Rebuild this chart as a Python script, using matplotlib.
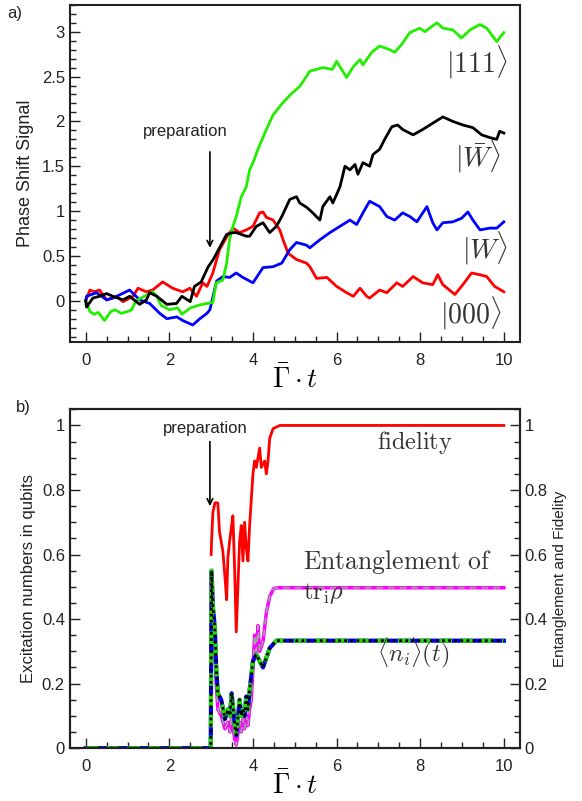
import numpy as np
import matplotlib
matplotlib.use("Agg")
import matplotlib.pyplot as plt
from matplotlib.ticker import MultipleLocator, FuncFormatter

plt.rcParams['font.family'] = ['Liberation Sans', 'DejaVu Sans']
plt.rcParams['mathtext.fontset'] = 'cm'

# ---- panel a) phase shift signal, (t, signal)
sig_111 = np.array([
    (0, 0), (0.1, -0.12), (0.2, -0.15), (0.3, -0.13), (0.45, -0.22), (0.6, -0.12), (0.7, -0.1),
    (0.85, -0.14), (1.0, -0.12), (1.1, -0.1), (1.2, 0.0), (1.4, 0.05), (1.6, 0.1), (1.7, 0.05),
    (1.8, -0.05), (2.0, -0.1), (2.2, -0.08), (2.3, -0.15), (2.5, -0.08), (2.7, -0.05), (2.9, -0.03),
    (3.04, -0.02), (3.12, 0.2), (3.28, 0.23), (3.37, 0.42), (3.44, 0.68), (3.52, 0.83), (3.6, 0.94),
    (3.72, 1.16), (3.84, 1.27), (3.92, 1.46), (4.0, 1.54), (4.12, 1.69), (4.32, 1.91), (4.48, 2.07),
    (4.7, 2.2), (4.9, 2.3), (5.12, 2.39), (5.36, 2.56), (5.67, 2.6), (5.9, 2.58), (6.0, 2.67),
    (6.24, 2.49), (6.4, 2.61), (6.56, 2.69), (6.63, 2.63), (6.84, 2.77), (7.03, 2.84), (7.27, 2.8),
    (7.39, 2.77), (7.56, 2.86), (7.75, 2.99), (7.99, 3.04), (8.11, 3.0), (8.4, 3.1), (8.54, 3.04),
    (8.78, 3.02), (8.99, 2.93), (9.19, 3.02), (9.43, 3.08), (9.59, 3.04), (9.83, 2.89), (10.0, 2.99)])

sig_wbar = np.array([
    (0, 0), (0.02, -0.07), (0.17, 0.03), (0.33, 0.05), (0.5, 0.08), (0.65, 0.05), (0.89, 0.01),
    (1.05, 0.05), (1.29, -0.04), (1.45, 0.01), (1.53, 0.09), (1.7, 0.05), (1.94, -0.04), (2.17, -0.03),
    (2.3, 0.05), (2.5, -0.01), (2.6, 0.16), (2.76, 0.21), (2.93, 0.38), (3.05, 0.46), (3.21, 0.6),
    (3.37, 0.74), (3.52, 0.76), (3.6, 0.76), (3.84, 0.72), (3.92, 0.72), (4.08, 0.83), (4.24, 0.87),
    (4.4, 0.76), (4.56, 0.83), (4.69, 0.94), (4.88, 1.13), (5.04, 1.16), (5.12, 1.09), (5.29, 1.04),
    (5.43, 0.98), (5.6, 0.9), (5.67, 1.05), (5.84, 1.16), (5.91, 1.09), (6.08, 1.27), (6.2, 1.5),
    (6.32, 1.46), (6.44, 1.52), (6.51, 1.41), (6.63, 1.54), (6.79, 1.5), (6.87, 1.63), (7.03, 1.69),
    (7.15, 1.8), (7.32, 1.94), (7.46, 1.96), (7.58, 1.91), (7.83, 1.85), (8.06, 1.91), (8.3, 1.98),
    (8.54, 2.05), (8.78, 2.0), (9.02, 1.96), (9.26, 1.93), (9.47, 1.85), (9.66, 1.82), (9.83, 1.8),
    (9.9, 1.89), (10.0, 1.87)])

sig_w = np.array([
    (0, 0), (0.02, 0.05), (0.26, 0.09), (0.5, 0.01), (0.65, 0.03), (1.05, 0.12), (1.29, 0.01),
    (1.53, -0.03), (1.77, -0.14), (1.94, -0.2), (2.18, -0.18), (2.32, -0.22), (2.56, -0.27),
    (2.73, -0.2), (2.9, -0.14), (2.97, -0.1), (3.13, 0.22), (3.28, 0.27), (3.44, 0.26), (3.6, 0.31),
    (3.76, 0.26), (4.0, 0.2), (4.24, 0.37), (4.48, 0.38), (4.69, 0.42), (4.88, 0.57), (5.04, 0.65),
    (5.28, 0.62), (5.36, 0.59), (5.6, 0.68), (5.84, 0.76), (6.08, 0.83), (6.32, 0.9), (6.48, 0.85),
    (6.63, 0.98), (6.79, 1.11), (7.03, 1.05), (7.2, 0.94), (7.39, 0.9), (7.58, 0.98), (7.75, 0.94),
    (7.92, 0.88), (8.16, 1.05), (8.3, 0.87), (8.4, 0.79), (8.54, 0.87), (8.78, 0.88), (8.99, 0.92),
    (9.14, 0.99), (9.26, 0.9), (9.43, 0.79), (9.66, 0.81), (9.83, 0.81), (10.0, 0.88)])

sig_000 = np.array([
    (0, 0), (0.1, 0.12), (0.2, 0.1), (0.33, 0.12), (0.5, 0.01), (0.74, 0.05), (0.89, -0.01),
    (1.13, 0.05), (1.25, 0.14), (1.45, 0.1), (1.6, 0.12), (1.84, 0.21), (2.08, 0.14), (2.32, 0.1),
    (2.49, 0.14), (2.65, 0.05), (2.8, 0.2), (2.9, 0.16), (3.04, 0.31), (3.2, 0.57), (3.37, 0.71),
    (3.52, 0.81), (3.68, 0.76), (3.84, 0.79), (4.0, 0.83), (4.16, 0.98), (4.24, 0.99), (4.32, 0.93),
    (4.48, 0.9), (4.64, 0.79), (4.72, 0.68), (4.84, 0.53), (5.04, 0.46), (5.28, 0.42), (5.36, 0.38),
    (5.52, 0.25), (5.77, 0.26), (6.0, 0.16), (6.24, 0.09), (6.4, 0.05), (6.56, 0.14), (6.72, 0.05),
    (6.79, 0.03), (7.03, 0.12), (7.2, 0.09), (7.44, 0.2), (7.58, 0.16), (7.83, 0.27), (8.06, 0.2),
    (8.3, 0.18), (8.42, 0.29), (8.54, 0.18), (8.83, 0.07), (9.02, 0.18), (9.23, 0.31), (9.43, 0.29),
    (9.59, 0.27), (9.78, 0.16), (10.0, 0.1)])

# ---- panel b) excitation numbers / entanglement / fidelity
fidelity = np.array([
    (3.0, 0.6), (3.01, 0.64), (3.04, 0.73), (3.09, 0.76), (3.16, 0.76), (3.2, 0.67), (3.28, 0.61),
    (3.33, 0.53), (3.37, 0.46), (3.4, 0.59), (3.44, 0.64), (3.49, 0.69), (3.52, 0.72), (3.56, 0.56),
    (3.6, 0.36), (3.64, 0.5), (3.68, 0.64), (3.72, 0.69), (3.76, 0.58), (3.8, 0.7), (3.84, 0.62),
    (3.88, 0.58), (3.92, 0.69), (3.96, 0.77), (4.0, 0.85), (4.04, 0.89), (4.08, 0.87), (4.16, 0.93),
    (4.2, 0.87), (4.28, 0.89), (4.32, 0.85), (4.36, 0.89), (4.4, 0.96), (4.48, 0.99), (4.64, 1.0),
    (10.0, 1.0)])

entanglement = np.array([
    (0, 0), (2.99, 0), (3.01, 0.52), (3.04, 0.4), (3.09, 0.3), (3.12, 0.2), (3.16, 0.12), (3.24, 0.1),
    (3.33, 0.06), (3.4, 0.08), (3.45, 0.05), (3.49, 0.1), (3.56, 0.03), (3.6, 0.01), (3.68, 0.08),
    (3.72, 0.05), (3.76, 0.09), (3.8, 0.06), (3.84, 0.1), (3.88, 0.07), (3.92, 0.12), (3.96, 0.15),
    (4.0, 0.25), (4.04, 0.35), (4.08, 0.3), (4.12, 0.38), (4.16, 0.3), (4.24, 0.33), (4.32, 0.42),
    (4.4, 0.47), (4.5, 0.495), (4.6, 0.497), (10.0, 0.497)])

n_i = np.array([
    (0, 0), (2.99, 0), (3.01, 0.55), (3.04, 0.44), (3.09, 0.37), (3.12, 0.25), (3.16, 0.17),
    (3.24, 0.15), (3.33, 0.09), (3.4, 0.12), (3.45, 0.1), (3.49, 0.17), (3.56, 0.08), (3.6, 0.04),
    (3.68, 0.15), (3.72, 0.1), (3.76, 0.12), (3.8, 0.1), (3.84, 0.16), (3.88, 0.12), (3.92, 0.18),
    (4.0, 0.27), (4.08, 0.29), (4.16, 0.27), (4.24, 0.25), (4.32, 0.28), (4.4, 0.31), (4.56, 0.333),
    (10.0, 0.333)])

fmt = FuncFormatter(lambda v, p: '%g' % round(v, 2))
txt = '#222222'

fig = plt.figure(figsize=(5.82, 8.01), dpi=100)
ax1 = fig.add_axes([0.120, 0.573, 0.773, 0.421])
ax2 = fig.add_axes([0.120, 0.066, 0.773, 0.423])

# panel a
lw = 2.0
ax1.plot(*sig_000.T, color='#ff0000', lw=lw)
ax1.plot(*sig_w.T, color='#0000ff', lw=lw)
ax1.plot(*sig_111.T, color='#22ee00', lw=lw)
ax1.plot(*sig_wbar.T, color='black', lw=lw)

ax1.set_xlim(-0.38, 10.38)
ax1.set_ylim(-0.46, 3.30)
ax1.xaxis.set_major_locator(MultipleLocator(2))
ax1.xaxis.set_minor_locator(MultipleLocator(0.5))
ax1.yaxis.set_major_locator(MultipleLocator(0.5))
ax1.yaxis.set_minor_locator(MultipleLocator(0.1))
ax1.yaxis.set_major_formatter(fmt)
ax1.set_ylabel('Phase Shift Signal', fontsize=13, color=txt, labelpad=6)
ax1.set_xlabel(r'$\bar{\Gamma}\cdot t$', fontsize=20, labelpad=-2)

ket_fs = 20
ket_col = '#333333'
ax1.text(10.1, 2.66, r'$|111\rangle$', fontsize=ket_fs, ha='right', va='center', color=ket_col)
ax1.text(9.95, 1.61, r'$|\bar{W}\rangle$', fontsize=ket_fs, ha='right', va='center', color=ket_col)
ax1.text(10.1, 0.59, r'$|W\rangle$', fontsize=ket_fs, ha='right', va='center', color=ket_col)
ax1.text(9.95, -0.14, r'$|000\rangle$', fontsize=ket_fs, ha='right', va='center', color=ket_col)
ax1.annotate('', xy=(2.97, 0.59), xytext=(2.97, 1.66),
             arrowprops=dict(arrowstyle='->', color='black', lw=1.2, shrinkA=0, shrinkB=0))
ax1.text(2.37, 1.89, 'preparation', fontsize=12, ha='center', va='center', color=txt)

# panel b
ax2.plot(*fidelity.T, color='#ff0000', lw=2.0)
ax2.plot(*entanglement.T, color='#ff00ff', lw=2.5)
ax2.plot(*entanglement.T, color='#99aa99', lw=1.2, ls=(0, (4, 3)))
ax2.plot(*n_i.T, color='#0000ff', lw=3.0)
ax2.plot(*n_i.T, color='#22dd00', lw=3.0, ls=(0, (3, 2)))
ax2.plot(*n_i.T, color='black', lw=2.0, ls=(0, (1, 1.2)))

ax2.set_xlim(-0.38, 10.38)
ax2.set_ylim(0, 1.05)
ax2.xaxis.set_major_locator(MultipleLocator(2))
ax2.xaxis.set_minor_locator(MultipleLocator(0.5))
ax2.yaxis.set_major_locator(MultipleLocator(0.2))
ax2.yaxis.set_minor_locator(MultipleLocator(0.05))
ax2.yaxis.set_major_formatter(fmt)
ax2.set_ylabel('Excitation numbers in qubits', fontsize=12, color=txt)
ax2.set_xlabel(r'$\bar{\Gamma}\cdot t$', fontsize=20, labelpad=-2)

ax3 = ax2.twinx()
ax3.set_ylim(0, 1.05)
ax3.yaxis.set_major_locator(MultipleLocator(0.2))
ax3.yaxis.set_minor_locator(MultipleLocator(0.05))
ax3.yaxis.set_major_formatter(fmt)
ax3.set_ylabel('Entanglement and Fidelity', fontsize=11, color=txt, labelpad=4)

ax2.text(6.96, 0.947, r'$\mathrm{fidelity}$', fontsize=17.5, va='center', color=ket_col)
ax2.text(5.19, 0.576, r'$\mathrm{Entanglement\ of}$', fontsize=18.5, va='center', color=ket_col)
ax2.text(5.19, 0.48, r'$\mathrm{tr_i}\rho$', fontsize=17.5, va='center', color=ket_col)
ax2.text(6.96, 0.296, r'$\langle n_i\rangle(t)$', fontsize=17.5, va='center', color=ket_col)
ax2.annotate('', xy=(2.97, 0.75), xytext=(2.97, 0.95),
             arrowprops=dict(arrowstyle='->', color='black', lw=1.2, shrinkA=0, shrinkB=0))
ax2.text(2.85, 0.99, 'preparation', fontsize=12, ha='center', va='center', color=txt)

for ax in (ax1, ax2, ax3):
    for s in ax.spines.values():
        s.set_linewidth(1.5)
        s.set_color(txt)
    ax.tick_params(which='both', direction='in', labelsize=12, labelcolor=txt,
                   width=1, color=txt)
    ax.tick_params(which='major', length=7)
    ax.tick_params(which='minor', length=4)
for ax in (ax1, ax2):
    ax.tick_params(which='both', top=False, right=False)
    ax.tick_params(axis='x', pad=8)

fig.text(0.012, 0.983, 'a)', fontsize=12, color=txt, va='center')
fig.text(0.028, 0.491, 'b)', fontsize=12, color=txt, va='center')

fig.savefig('out.png', dpi=100)
